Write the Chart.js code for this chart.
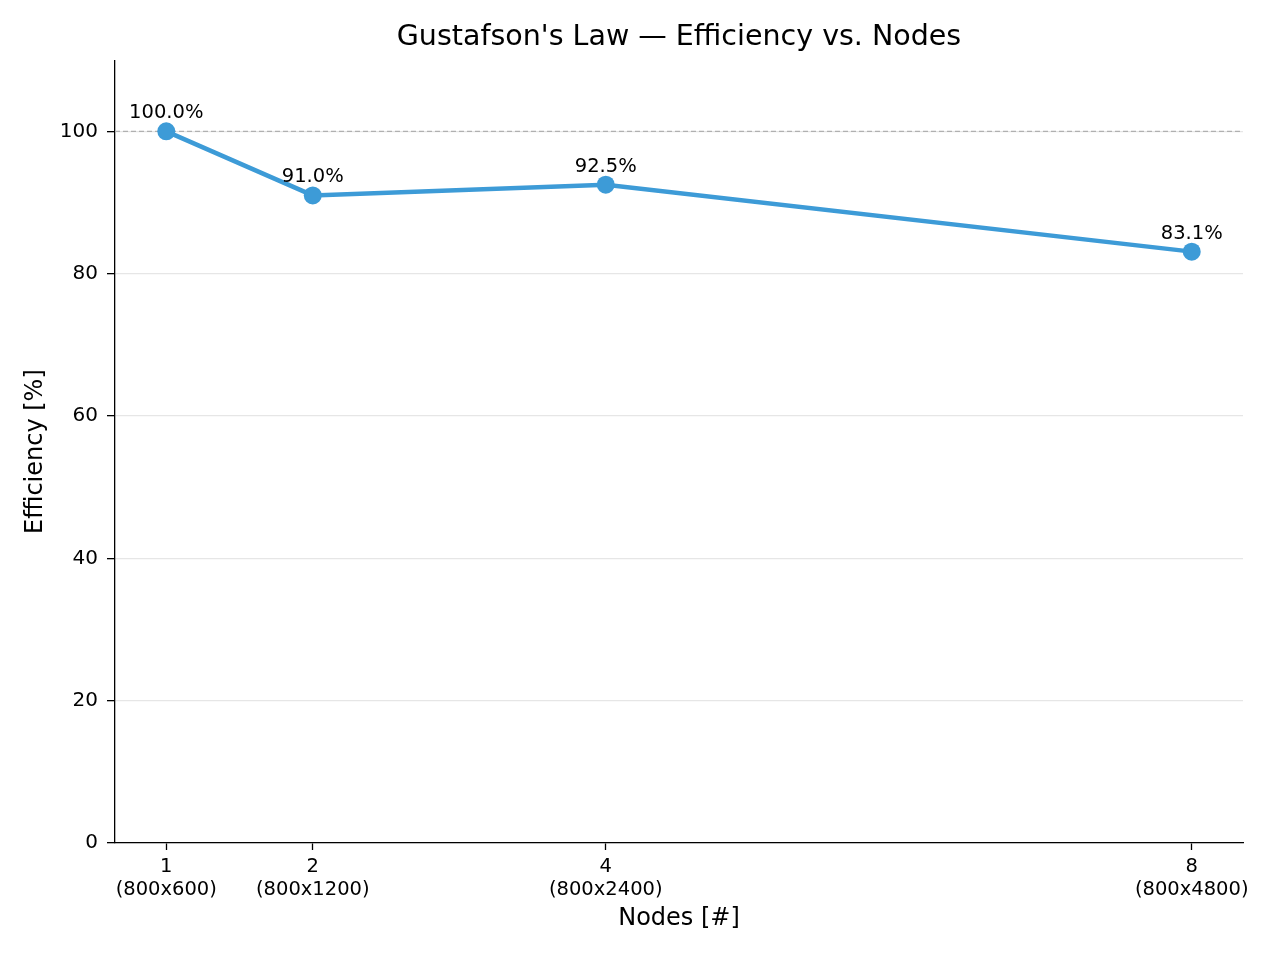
<!DOCTYPE html>
<html>
<head>
<meta charset="utf-8">
<title>Gustafson's Law</title>
<script src="https://cdn.jsdelivr.net/npm/chart.js@4.4.1/dist/chart.umd.min.js"></script>
<style>
  body { margin: 0; background: #fff; }
</style>
</head>
<body>
<canvas id="chartCanvas" width="1280" height="960"></canvas>
<script>
// data
const nodes = [1, 2, 4, 8];
const gridSizes = ["800x600", "800x1200", "800x2400", "800x4800"];
const efficiency = [100.0, 91.0, 92.5, 83.1];
const yTicks = [0, 20, 40, 60, 80, 100];
const idealLine = 100;

const FONT = "'DejaVu Sans', sans-serif";
const BLUE = "#3d9bd7";

// value labels above each point
const pointLabels = {
  id: "pointLabels",
  afterDatasetsDraw(chart) {
    const ctx = chart.ctx;
    const meta = chart.getDatasetMeta(0);
    ctx.save();
    ctx.font = "19.5px " + FONT;
    ctx.fillStyle = "#000";
    ctx.textAlign = "center";
    ctx.textBaseline = "alphabetic";
    meta.data.forEach((pt, i) => {
      ctx.fillText(efficiency[i].toFixed(1) + "%", pt.x, pt.y - 13);
    });
    ctx.restore();
  },
};

// dashed 100% reference line
const refLine = {
  id: "refLine",
  beforeDatasetsDraw(chart) {
    const { ctx, chartArea, scales } = chart;
    const y = scales.y.getPixelForValue(idealLine);
    ctx.save();
    ctx.strokeStyle = "#b0b0b0";
    ctx.lineWidth = 1.3;
    ctx.setLineDash([5, 3]);
    ctx.beginPath();
    ctx.moveTo(chartArea.left, y);
    ctx.lineTo(chartArea.right, y);
    ctx.stroke();
    ctx.restore();
  },
};

const ctx = document.getElementById("chartCanvas").getContext("2d");

new Chart(ctx, {
  type: "line",
  data: {
    datasets: [
      {
        label: "Efficiency",
        data: nodes.map((n, i) => ({ x: n, y: efficiency[i] })),
        borderColor: BLUE,
        backgroundColor: BLUE,
        borderWidth: 4.5,
        pointRadius: 9,
        pointBorderWidth: 0,
        pointBackgroundColor: BLUE,
        tension: 0,
      },
    ],
  },
  options: {
    responsive: false,
    animation: false,
    layout: { padding: { left: 0, right: 37, top: 0, bottom: 0 } },
    plugins: {
      legend: { display: false },
      tooltip: { enabled: false },
      title: {
        display: true,
        text: "Gustafson's Law \u2014 Efficiency vs. Nodes",
        fullSize: false,
        color: "#000",
        font: { family: FONT, size: 28.5, weight: "normal", lineHeight: 1.2 },
        padding: { top: 20, bottom: 6 },
      },
    },
    scales: {
      x: {
        type: "linear",
        min: 0.65,
        max: 8.35,
        afterBuildTicks: (scale) => {
          scale.ticks = nodes.map((v) => ({ value: v }));
        },
        afterFit: (scale) => {
          scale.height = 117;
        },
        border: { display: true, color: "#000", width: 1.3 },
        grid: {
          drawOnChartArea: false,
          drawTicks: true,
          tickLength: 7,
          tickColor: "#000",
          tickWidth: 1.3,
        },
        ticks: {
          color: "#000",
          padding: 5,
          maxRotation: 0,
          autoSkip: false,
          font: { family: FONT, size: 19.5, lineHeight: 1.18 },
          callback: (value) => {
            const i = nodes.indexOf(value);
            return [String(value), "(" + gridSizes[i] + ")"];
          },
        },
        title: {
          display: true,
          text: "Nodes [#]",
          color: "#000",
          font: { family: FONT, size: 24, lineHeight: 1.2 },
          padding: { top: 0, bottom: 27 },
        },
      },
      y: {
        min: 0,
        max: 110,
        afterBuildTicks: (scale) => {
          scale.ticks = yTicks.map((v) => ({ value: v }));
        },
        afterFit: (scale) => {
          scale.width = 115;
        },
        border: { display: true, color: "#000", width: 1.3 },
        grid: {
          color: "#e6e6e6",
          lineWidth: 1.3,
          drawTicks: true,
          tickLength: 8,
          tickColor: "#000",
          tickWidth: 1.3,
        },
        ticks: {
          color: "#000",
          padding: 9,
          font: { family: FONT, size: 20 },
        },
        title: {
          display: true,
          text: "Efficiency [%]",
          color: "#000",
          font: { family: FONT, size: 24, lineHeight: 1.2 },
          padding: { top: 21, bottom: 0 },
        },
      },
    },
  },
  plugins: [refLine, pointLabels],
});
</script>
</body>
</html>
